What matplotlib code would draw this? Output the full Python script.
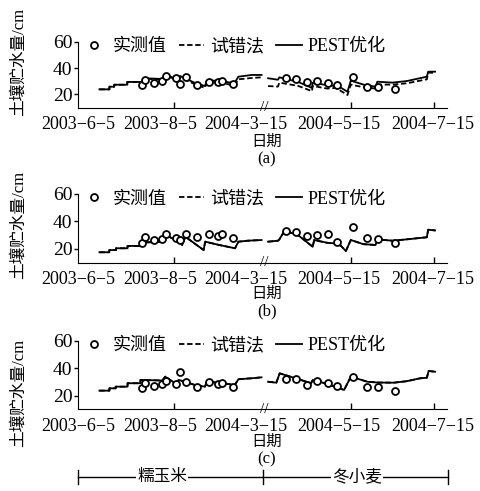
import numpy as np
import matplotlib
matplotlib.use('Agg')
import matplotlib.pyplot as plt
import matplotlib.transforms as mtransforms

plt.rcParams['font.family'] = ['Liberation Serif', 'Noto Sans CJK SC']
plt.rcParams['axes.unicode_minus'] = True

# x position in plot units (left part: 2003 maize season, right part: 2004 wheat season)
tick_label_pos = [-2, 55, 114, 178, 243]
tick_labels = ['2003\u22126\u22125', '2003\u22128\u22125', '2004\u22123\u221215',
               '2004\u22125\u221215', '2004\u22127\u221215']
tick_mark_pos = [64.4, 186.3, 243.8]
x_break = 126.5
x_max = 252.7

# measured soil water storage (cm)
obs_t = [42, 44.3, 50.5, 55.7, 58.4, 65.3, 68.5, 72.8, 80.1, 88.6, 94.5, 97.3, 105.3,
         141.8, 148.6, 156.2, 163, 170.3, 176.7, 187.9, 197.7, 205, 216.6]
obs_a = [27.2, 31, 28.5, 30.5, 34.2, 32.3, 28, 33, 27.2, 29.7, 29.7, 30.5, 28,
         32.3, 31.5, 29.2, 30.5, 28.5, 27.2, 33.5, 25.4, 25.9, 24]
obs_b = [24.6, 28.5, 26.5, 27, 30.9, 27.8, 26.5, 30.7, 28.5, 30.7, 29.4, 30.7, 27.8,
         33.3, 32.6, 29.4, 30.2, 30.7, 25.3, 36.2, 27.8, 27, 24.6]
obs_c = [25.3, 29, 27, 28.4, 30.8, 28.4, 37.4, 29.7, 26.5, 29.7, 28.4, 29.4, 26.5,
         31.9, 31.9, 27.7, 30.8, 29, 27, 33.8, 26, 26, 23.3]

nan = np.nan
# panel (a) simulations
pest_a_t = [12.8, 19.7, 19.7, 23, 23, 32, 32, 42, 43.6, 56, 58.2, 67, 68.5, 78.3, 85.6, 87,
            95, 106, 108.7, 117.8, 124.7, nan,
            129.2, 136, 137, 150, 159.5, 160, 170, 175, 176, 184, 186.3, 195, 203.4,
            204.6, 215, 225, 238.8, 239.7, 244.5]
pest_a = [23.9, 23.9, 25.9, 25.9, 27.4, 27.4, 29.5, 29.5, 32.3, 31.8, 34.8, 31.5, 34, 29, 26.4, 30.5,
          30.5, 28.5, 33.5, 34.8, 34.8, nan,
          32.3, 31.2, 33, 29.5, 25, 29, 27, 26.5, 27.5, 22.1, 30.5, 27.5, 25.9,
          29.7, 29, 30.2, 33.5, 37.3, 37.3]
trial_a_t = [12.8, 19.7, 19.7, 23, 23, 32, 32, 42, 43.6, 56, 58.2, 67, 68.5, 78.3, 85.6, 87,
             95, 106, 108.7, 117.8, 124.7, nan,
             129.2, 136, 137, 150, 159.5, 160, 170, 176, 184, 186.3, 195, 203.4,
             204.6, 215, 225, 238.8, 239.7, 244.5]
trial_a = [23.9, 23.9, 25.9, 25.9, 27.4, 27.4, 29.5, 29.5, 32, 31.3, 34.3, 31, 33, 28, 25, 29.5,
           29, 27, 31.5, 32.5, 33, nan,
           26.4, 26, 29, 26.5, 22.5, 26.5, 24.5, 25, 19.6, 27.5, 25.5, 24.5,
           27.5, 27.5, 28.5, 31.5, 36.5, 36.5]

# panel (b) simulations
pest_b_t = [12.8, 19.6, 19.6, 24.2, 24.2, 32.2, 32.2, 41.3, 41.3, 56.2, 58.4, 65.3, 66, 69.9,
            72.1, 84.7, 85.8, 95, 106.4, 108.7, 115, 124.7, nan,
            129.2, 136, 137, 140.6, 150, 160, 161, 170, 176, 177, 182.9, 186.3, 195, 203.4,
            204.6, 215, 225, 234, 238.8, 239.7, 244.5]
pest_b = [17.6, 17.6, 19.2, 19.2, 20.5, 20.5, 22.2, 22.2, 24.6, 25.3, 30.2, 26.5, 28, 22.9,
          28.9, 19.2, 25.3, 23, 20.5, 25.3, 26, 26.5, nan,
          25.3, 26, 27, 33.3, 30, 21.6, 26.5, 24.5, 24, 25, 18.5, 26.5, 23.5, 22.9,
          27, 26, 27, 28, 28.5, 34, 33.5]
trial_b_t = pest_b_t
trial_b = pest_b

# panel (c) simulations
pest_c_t = [12.8, 19.7, 19.7, 24, 24, 32.2, 32.2, 41.1, 41.1, 56.2, 58.2, 65, 67.6, 78.8, 85.6,
            87, 95, 106.2, 108.7, 117.8, 124.7, nan,
            129.2, 134.9, 137.2, 150, 158.9, 160, 170, 181.7, 186.3, 197.7, 205, 216, 225,
            234.2, 238.8, 240, 244.5]
pest_c = [23.6, 23.6, 25.3, 25.3, 26.5, 26.5, 29, 29, 31.4, 31, 33.8, 29, 31.4, 27.7, 26.5,
          30.1, 29.5, 27.7, 31.9, 32.6, 33.3, nan,
          30.1, 29.4, 36.2, 32, 29, 31.4, 28.5, 24.1, 33.8, 30.1, 29.5, 29.4, 30.5,
          32.6, 33, 37.9, 37.4]
trial_c_t = pest_c_t
trial_c = pest_c

panels = [
    ('(a)', obs_a, trial_a_t, trial_a, pest_a_t, pest_a),
    ('(b)', obs_b, trial_b_t, trial_b, pest_b_t, pest_b),
    ('(c)', obs_c, trial_c_t, trial_c, pest_c_t, pest_c),
]

W, H = 481, 491
fig = plt.figure(figsize=(W / 100, H / 100), dpi=100)

# (top px, bottom px, ylabel centre px, 日期 px, letter px)
layout = [
    (41.7, 107.7, 62, 142, 159),
    (194.0, 262.7, 225, 294, 311),
    (340.7, 409.3, 393, 442, 459),
]
left_px, right_px = 78, 447

for (name, obs, tt, tv, pt, pv), (top, bot, ylab_y, date_y, let_y) in zip(panels, layout):
    ax = fig.add_axes([left_px / W, 1 - bot / H, (right_px - left_px) / W, (bot - top) / H])
    ax.plot(tt, tv, color='black', lw=1.3, ls=(0, (3, 1.5)), label='试错法')
    ax.plot(pt, pv, color='black', lw=1.3, ls='-', label='PEST优化')
    ax.plot(obs_t, obs, ls='none', marker='o', ms=5, mfc='white', mec='black', mew=1.3,
            label='实测值')
    ax.set_xlim(0, x_max)
    ax.set_ylim(10, 60)
    ax.spines['top'].set_visible(False)
    ax.spines['right'].set_visible(False)
    ax.set_yticks([20, 40, 60])
    ax.tick_params(axis='y', direction='out', length=3, width=1, labelsize=14, pad=1)
    ax.set_xticks(tick_label_pos)
    ax.set_xticklabels(tick_labels)
    ax.tick_params(axis='x', which='major', length=0, labelsize=13, pad=6)
    ax.set_xticks(tick_mark_pos, minor=True)
    ax.tick_params(axis='x', which='minor', direction='in', length=4, width=1)
    trans = mtransforms.blended_transform_factory(ax.transData, ax.transAxes)
    ax.text(x_break, 0.0, '//', transform=trans, ha='center', va='center', fontsize=11,
            clip_on=False)

    handles, labels = ax.get_legend_handles_labels()
    order = [2, 0, 1]
    ax.legend([handles[i] for i in order], [labels[i] for i in order], ncol=3,
              loc='upper left', bbox_to_anchor=(0.01, 1.05), frameon=False, fontsize=13,
              handlelength=1.4, handletextpad=0.3, columnspacing=0.7, borderpad=0,
              borderaxespad=0)

    fig.text(19 / W, 1 - ylab_y / H, '土壤贮水量/cm', rotation=90, ha='center', va='center',
             fontsize=12)
    fig.text(267 / W, 1 - date_y / H, '日期', ha='center', va='center', fontsize=11)
    fig.text(267 / W, 1 - let_y / H, name, ha='center', va='center', fontsize=12)

# crop season bracket
axb = fig.add_axes([left_px / W, 1 - 484 / H, (right_px - left_px) / W, 14 / H])
axb.set_xlim(0, x_max)
axb.set_ylim(0, 1)
axb.axis('off')
axb.plot([0, 253.4], [0.5, 0.5], color='black', lw=1, clip_on=False)
for xv in [0, 126.7, 253.4]:
    axb.plot([xv, xv], [0.0, 1.0], color='black', lw=1, clip_on=False)
for xv, txt in [(57.5, '糯玉米'), (191, '冬小麦')]:
    axb.text(xv, 0.5, txt, ha='center', va='center', fontsize=12,
             bbox=dict(facecolor='white', edgecolor='none', pad=1))

fig.savefig('out.png', dpi=100)
